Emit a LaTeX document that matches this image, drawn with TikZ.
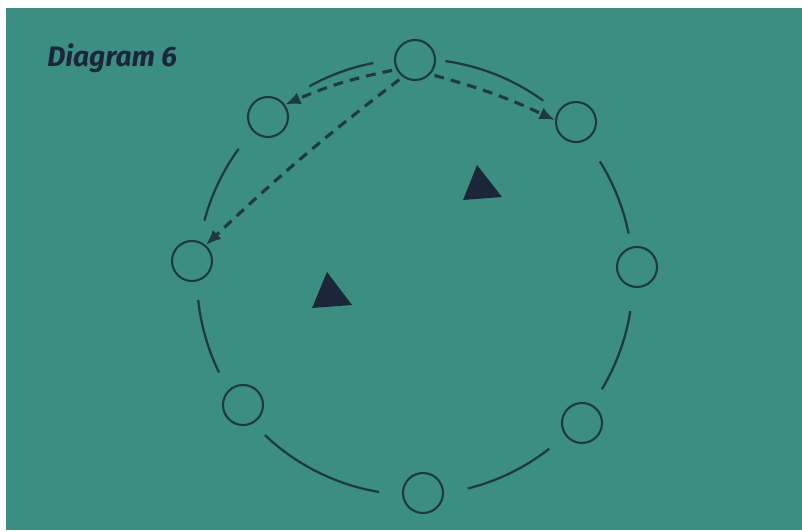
\documentclass[tikz,border=0pt]{standalone}
\usepackage{fontspec}
\setmainfont{Fira Sans}
\usepackage{tikz}
\usetikzlibrary{arrows.meta}
\definecolor{fondo}{HTML}{3C8E82}
\definecolor{trazo}{HTML}{1C3A40}
\definecolor{marino}{HTML}{1B2639}

\begin{document}
\begin{tikzpicture}[x=0.025cm, y=0.025cm,
      jugador/.style={circle, draw=trazo, line width=1.5pt, minimum size=1cm, inner sep=0pt},
      aro/.style={draw=trazo, line width=1.6pt},
      pase/.style={-{Latex[length=11pt, width=9pt]}, draw=trazo, line width=2.2pt,
                   dash pattern=on 7pt off 5pt, shorten <=3pt},
      cono/.style={fill=marino},
      rotulo/.style={font=\bfseries\itshape\fontsize{20}{22}\selectfont, text=marino,
                     anchor=base west, inner sep=0pt}]

    \useasboundingbox (0,0) rectangle (802,532);
    \fill[white] (0,0) rectangle (802,532);
    \fill[fondo] (6,2) rectangle (802,524);

    \node[rotulo] (titulo) at (47,465) {Diagram 6};

    % jugadores en el aro
    \coordinate (centro) at (415,255);
    \node[jugador] (n) at (415,472) {};
    \node[jugador] (no) at (268,415) {};
    \node[jugador] (ne) at (576,410) {};
    \node[jugador] (o) at (192,271) {};
    \node[jugador] (e) at (637,265) {};
    \node[jugador] (so) at (243,127) {};
    \node[jugador] (se) at (582,109) {};
    \node[jugador] (s) at (423,39) {};

    % tramos del aro
    \foreach \a/\b in {101/119, 54/82, 11.5/32, -9/-31, -52/-76, 226.5/260.5, 186/206, 144/165}
      \draw[aro] (centro) ++(\a:218) arc[start angle=\a, end angle=\b, radius=218];

    % conos
    \fill[cono] (477,367) -- (463,332) -- (502,335) -- cycle;
    \fill[cono] (327,260) -- (312,224) -- (352,227) -- cycle;

    % pases
    \draw[pase] (n.207) to[bend right=6] (no.36);
    \draw[pase] (n.-43) to[bend left=5] (ne.175);
    \draw[pase] (n.234) to[bend right=3] (o.49);
  \end{tikzpicture}
\end{document}
